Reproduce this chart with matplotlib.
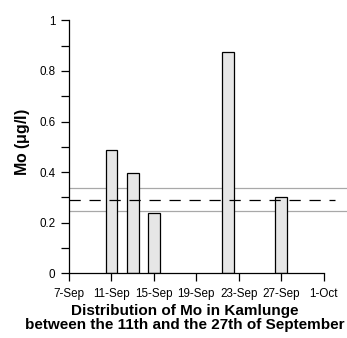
import matplotlib
matplotlib.use("Agg")
import matplotlib.pyplot as plt
import numpy as np
import pandas as pd

# Sampling dates and Mo concentrations (µg/l)
sample_dates = ["2008-09-11", "2008-09-13", "2008-09-15", "2008-09-22", "2008-09-27"]
mo_values = [0.487, 0.398, 0.237, 0.875, 0.303]

# Mean and +/- band
mean_level = 0.292
band_upper = 0.336
band_lower = 0.247

tick_dates = ["2008-09-07", "2008-09-11", "2008-09-15", "2008-09-19",
              "2008-09-23", "2008-09-27", "2008-10-01"]
tick_labels = ["7-Sep", "11-Sep", "15-Sep", "19-Sep", "23-Sep", "27-Sep", "1-Oct"]

plt.rcParams["font.family"] = ["Liberation Sans", "DejaVu Sans"]

origin = pd.Timestamp("2008-09-07")
x = np.array([(pd.Timestamp(d) - origin).days for d in sample_dates], dtype=float)
xt = np.array([(pd.Timestamp(d) - origin).days for d in tick_dates], dtype=float)

fig = plt.figure(figsize=(3.47, 3.38), dpi=100)
ax = fig.add_axes([0.199, 0.191, 0.801, 0.749])

ax.bar(x, mo_values, width=1.1, color="#e6e6e6", edgecolor="black", linewidth=0.9, zorder=2)

ax.axhline(band_upper, color="#a8a8a8", linewidth=0.9, zorder=1)
ax.axhline(band_lower, color="#a8a8a8", linewidth=0.9, zorder=1)
ax.plot([0, 25.1], [mean_level, mean_level], color="black", linewidth=0.9,
        dashes=(9, 7), zorder=3)

ax.set_xlim(0, 26.2)
ax.set_ylim(0, 1)
ax.spines["top"].set_visible(False)
ax.spines["right"].set_visible(False)
ax.spines["bottom"].set_bounds(0, 24)
ax.spines["left"].set_linewidth(0.9)
ax.spines["bottom"].set_linewidth(0.9)

ax.set_xticks(xt)
ax.set_xticklabels(tick_labels, fontsize=8.4)
ax.set_yticks([0, 0.2, 0.4, 0.6, 0.8, 1.0])
ax.set_yticklabels(["0", "0.2", "0.4", "0.6", "0.8", "1"], fontsize=8.4)
ax.set_yticks(np.arange(0.1, 1.0, 0.2), minor=True)
ax.tick_params(axis="both", which="major", direction="out", length=5.8, width=0.9)
ax.tick_params(axis="x", which="major", pad=4.5)
ax.tick_params(axis="y", which="major", pad=4)
ax.tick_params(axis="y", which="minor", direction="out", length=5.8, width=0.9)

ax.set_ylabel(r"Mo ($\mathregular{\mu}$g/l)", fontsize=11.5, fontweight="bold")
ax.yaxis.set_label_coords(-0.135, 0.52)

ax.set_xlabel("Distribution of Mo in Kamlunge\nbetween the 11th and the 27th of September",
              fontsize=11, fontweight="bold", linespacing=1.05)
ax.xaxis.set_label_coords((185 - 69) / 278.0, -0.12)
ax.xaxis.label.set_va("top")

fig.savefig("out.png", dpi=100)
